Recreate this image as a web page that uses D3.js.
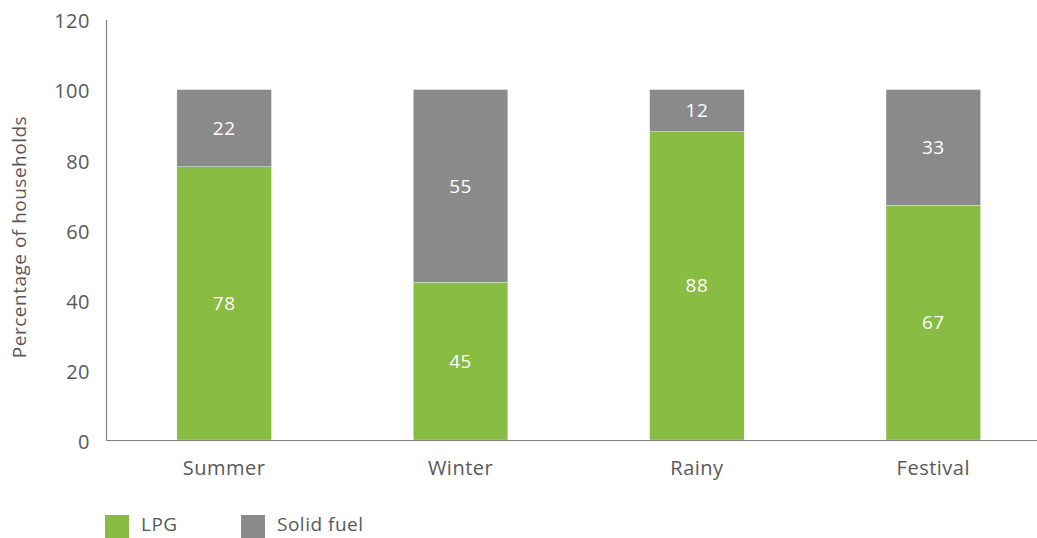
<!DOCTYPE html>
<html>
<head>
<meta charset="utf-8">
<script src="https://cdn.jsdelivr.net/npm/d3@7"></script>
<style>
  html, body { margin: 0; padding: 0; background: #fff; }
  svg text { font-family: "Open Sans", sans-serif; letter-spacing: 0.5px; }
</style>
</head>
<body>
<svg id="chart" width="1037" height="538"></svg>
<script>
// Household cooking fuel by season (percentage of households)
const seasons = ["Summer", "Winter", "Rainy", "Festival"];
const lpg = [78, 45, 88, 67];
const solidFuel = [22, 55, 12, 33];
const seriesNames = ["LPG", "Solid fuel"];
const yTicks = [0, 20, 40, 60, 80, 100, 120];

const colors = { "LPG": "#88bc42", "Solid fuel": "#8a8a8b" };
const textColor = "#595959";
const font = "'Open Sans', sans-serif";

const svg = d3.select("#chart");

const x = d3.scaleBand()
  .domain(seasons)
  .range([106, 1051.5])
  .paddingInner(0.6)
  .paddingOuter(0.3);

const y = d3.scaleLinear().domain([0, 120]).range([440, 19.5]);

// Stack the two series per season
const rows = seasons.map((s, i) => ({ season: s, "LPG": lpg[i], "Solid fuel": solidFuel[i] }));
const stacked = d3.stack().keys(seriesNames)(rows);

const layers = svg.append("g").selectAll("g")
  .data(stacked)
  .join("g")
  .attr("fill", d => colors[d.key]);

layers.selectAll("rect")
  .data(d => d)
  .join("rect")
  .attr("x", d => x(d.data.season))
  .attr("width", x.bandwidth())
  .attr("y", d => y(d[1]))
  .attr("height", d => y(d[0]) - y(d[1]))
  .attr("stroke", "#ffffff")
  .attr("stroke-width", 0.3);

// Value labels inside each segment
layers.selectAll("text")
  .data(d => d.map(v => ({ v, key: d.key })))
  .join("text")
  .attr("x", d => x(d.v.data.season) + x.bandwidth() / 2)
  .attr("y", d => (y(d.v[0]) + y(d.v[1])) / 2)
  .attr("dy", "0.35em")
  .attr("text-anchor", "middle")
  .attr("fill", "#ffffff")
  .attr("font-size", 19)
  .text(d => d.v.data[d.key]);

// Y axis
const yAxis = svg.append("g")
  .attr("transform", "translate(106,0)")
  .call(d3.axisLeft(y).tickValues(yTicks).tickSize(0).tickPadding(16));
yAxis.select(".domain").attr("stroke", "#7f7f7f").attr("stroke-width", 1.2);
yAxis.selectAll("text")
  .attr("fill", textColor)
  .attr("font-size", 20)
  .attr("dy", "0.42em")
  .style("font-family", font);

// X axis baseline and category labels
const xAxis = svg.append("g")
  .attr("transform", "translate(0,440)")
  .call(d3.axisBottom(x).tickSize(0).tickPadding(21).tickSizeOuter(0));
xAxis.select(".domain").attr("stroke", "#7f7f7f").attr("stroke-width", 1.2);
xAxis.selectAll("text")
  .attr("fill", textColor)
  .attr("font-size", 20)
  .style("font-family", font);

// Y axis title
svg.append("text")
  .attr("transform", "translate(26,237) rotate(-90)")
  .attr("text-anchor", "middle")
  .attr("fill", textColor)
  .attr("font-size", 19)
  .text("Percentage of households");

// Legend
const legendX = [105, 241];
const legend = svg.append("g").selectAll("g")
  .data(seriesNames)
  .join("g")
  .attr("transform", (d, i) => `translate(${legendX[i]},515)`);
legend.append("rect")
  .attr("width", 24).attr("height", 24)
  .attr("fill", d => colors[d]);
legend.append("text")
  .attr("x", 36).attr("y", 16)
  .attr("fill", textColor)
  .attr("font-size", 19)
  .text(d => d);
</script>
</body>
</html>
